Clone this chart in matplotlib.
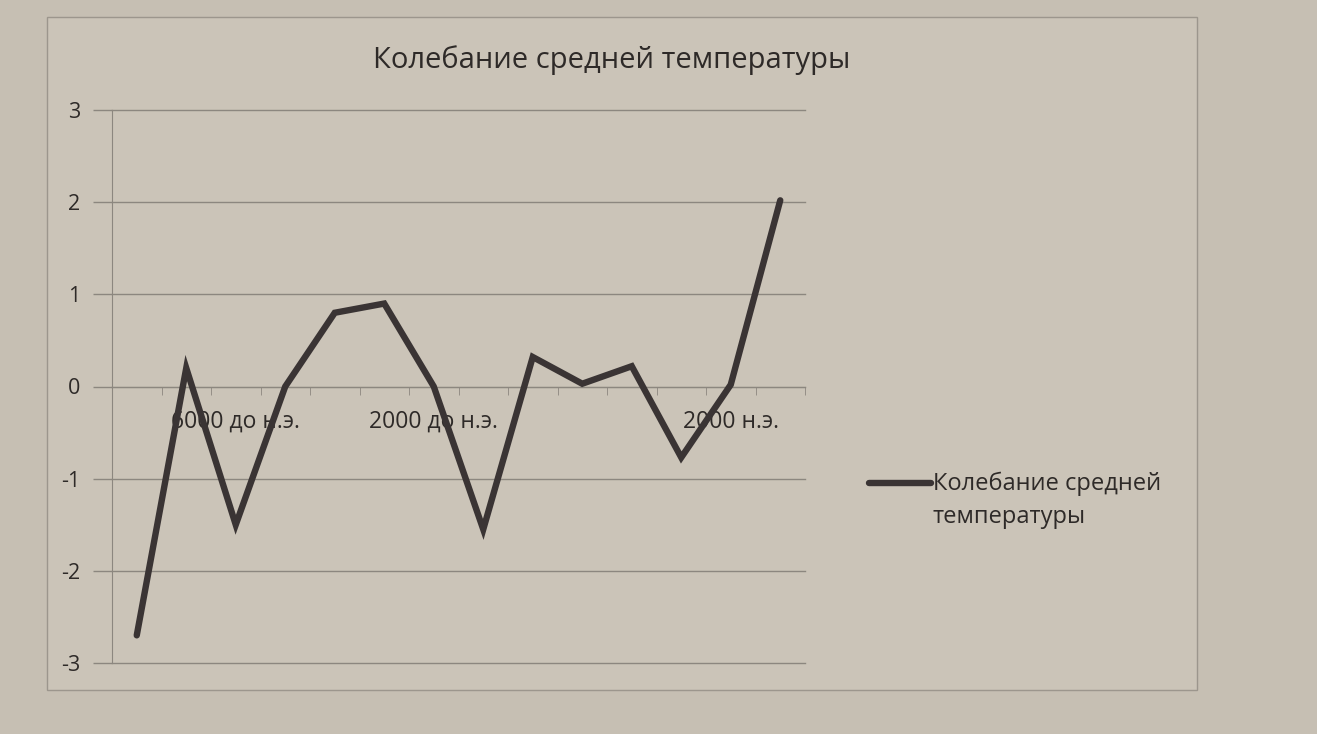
import matplotlib
matplotlib.use("Agg")
import matplotlib.pyplot as plt
from matplotlib.patches import Rectangle

plt.rcParams["font.family"] = ["Open Sans", "DejaVu Sans"]

TITLE = "Колебание средней температуры"
SERIES = "Колебание средней\nтемпературы"
values = [-2.7, 0.2, -1.5, 0.0, 0.8, 0.9, 0.0, -1.55, 0.32, 0.03, 0.22, -0.77, 0.02, 2.02]
label_pos = [2, 6, 12]
label_txt = ["6000 до н.э.", "2000 до н.э.", "2000 н.э."]
yticks = [-3, -2, -1, 0, 1, 2, 3]

PAPER = "#c6bfb3"
CARD = "#cbc4b8"
GRID = "#8c877f"
LINE = "#3a3434"
TEXT = "#2e2a28"

fig = plt.figure(figsize=(13.17, 7.34), dpi=100, facecolor=PAPER)
# chart frame, behind the axes
fig.patches.append(Rectangle((47 / 1317, 1 - 690 / 734), 1150 / 1317, 673 / 734,
                             transform=fig.transFigure, facecolor=CARD,
                             edgecolor="#9c968d", lw=1.0, zorder=-5))

ax = fig.add_axes([112 / 1317, 1 - 663 / 734, 693 / 1317, 553 / 734])
ax.set_facecolor("none")
x = list(range(len(values)))
ax.plot(x, values, color=LINE, lw=4.6, solid_joinstyle="miter", solid_capstyle="round",
        label=SERIES, zorder=3)

ax.set_xlim(-0.5, len(values) - 0.5)
ax.set_ylim(-3, 3)
ax.set_yticks(yticks)
ax.set_yticklabels([str(v) for v in yticks], fontsize=15.5, color=TEXT)
ax.tick_params(axis="y", length=14, color=GRID, width=1, pad=9)
ax.grid(axis="y", color=GRID, lw=1)
for gl in ax.get_ygridlines():
    gl.set_clip_on(False)

# category axis drawn through zero
ax.spines["bottom"].set_position(("data", 0))
for s in ("top", "right"):
    ax.spines[s].set_visible(False)
ax.spines["bottom"].set_color(GRID)
ax.spines["left"].set_color(GRID)
ax.set_xticks(label_pos)
ax.set_xticklabels(label_txt, fontsize=16.5, color=TEXT)
ax.set_xticks([i - 0.5 for i in range(len(values) + 1)], minor=True)
ax.tick_params(axis="x", which="major", length=0, pad=17)
ax.tick_params(axis="x", which="minor", length=6, color=GRID, direction="out")

fig.text(612 / 1317, 1 - 60 / 734, TITLE, ha="center", va="center",
         fontsize=21, color=TEXT)

leg = ax.legend(loc="center left", bbox_to_anchor=(1.062, 0.295), frameon=False,
                fontsize=17, handlelength=2.6, handletextpad=0.1,
                labelcolor=TEXT)
for t in leg.get_texts():
    t.set_linespacing(1.5)
# Excel puts the key next to the first line of a wrapped label
h = leg.get_lines()[0]
h.set_ydata([y + 12.5 for y in h.get_ydata()])

fig.savefig("out.png", dpi=100, facecolor=PAPER)
